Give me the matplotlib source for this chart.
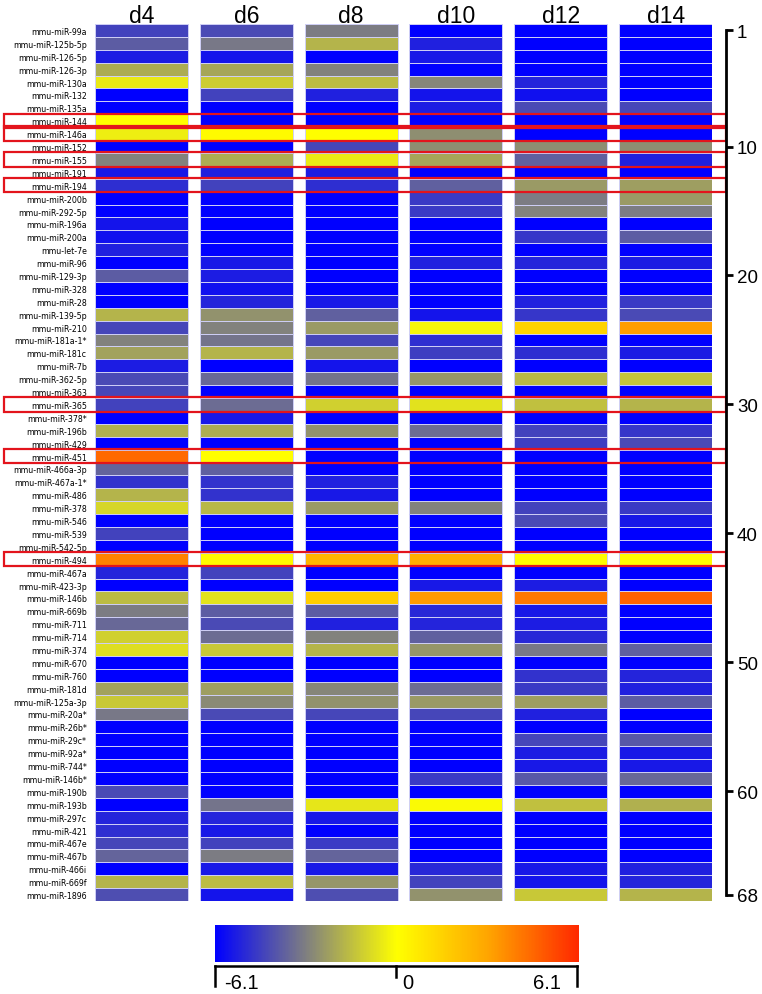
import matplotlib
matplotlib.use("Agg")
import matplotlib.pyplot as plt
import numpy as np
from matplotlib.colors import LinearSegmentedColormap, Normalize
from matplotlib.patches import Rectangle
from matplotlib import transforms
from matplotlib.cm import ScalarMappable

mirnas = ['mmu-miR-99a', 'mmu-miR-125b-5p', 'mmu-miR-126-5p', 'mmu-miR-126-3p', 'mmu-miR-130a',
          'mmu-miR-132', 'mmu-miR-135a', 'mmu-miR-144', 'mmu-miR-146a', 'mmu-miR-152',
          'mmu-miR-155', 'mmu-miR-191', 'mmu-miR-194', 'mmu-miR-200b', 'mmu-miR-292-5p',
          'mmu-miR-196a', 'mmu-miR-200a', 'mmu-let-7e', 'mmu-miR-96', 'mmu-miR-129-3p',
          'mmu-miR-328', 'mmu-miR-28', 'mmu-miR-139-5p', 'mmu-miR-210', 'mmu-miR-181a-1*',
          'mmu-miR-181c', 'mmu-miR-7b', 'mmu-miR-362-5p', 'mmu-miR-363', 'mmu-miR-365',
          'mmu-miR-378*', 'mmu-miR-196b', 'mmu-miR-429', 'mmu-miR-451', 'mmu-miR-466a-3p',
          'mmu-miR-467a-1*', 'mmu-miR-486', 'mmu-miR-378', 'mmu-miR-546', 'mmu-miR-539',
          'mmu-miR-542-5p', 'mmu-miR-494', 'mmu-miR-467a', 'mmu-miR-423-3p', 'mmu-miR-146b',
          'mmu-miR-669b', 'mmu-miR-711', 'mmu-miR-714', 'mmu-miR-374', 'mmu-miR-670',
          'mmu-miR-760', 'mmu-miR-181d', 'mmu-miR-125a-3p', 'mmu-miR-20a*', 'mmu-miR-26b*',
          'mmu-miR-29c*', 'mmu-miR-92a*', 'mmu-miR-744*', 'mmu-miR-146b*', 'mmu-miR-190b',
          'mmu-miR-193b', 'mmu-miR-297c', 'mmu-miR-421', 'mmu-miR-467e', 'mmu-miR-467b',
          'mmu-miR-466i', 'mmu-miR-669f', 'mmu-miR-1896']

days = ['d4', 'd6', 'd8', 'd10', 'd12', 'd14']

# log2 fold change per day, rows follow mirnas
d4 = [-4.5, -3.9, -5.4, -2.0, -0.5, -6.1, -6.1, 0.0, -0.4, -6.1,
      -3.0, -5.5, -5.0, -6.1, -6.1, -5.6, -5.7, -5.3, -6.1, -3.9,
      -6.1, -6.1, -1.8, -4.4, -3.0, -2.2, -5.4, -4.3, -4.4, -4.5,
      -6.1, -1.9, -6.1, 4.5, -3.7, -4.9, -1.8, -1.0, -6.1, -4.5,
      -6.1, 3.9, -5.2, -6.1, -1.6, -3.1, -3.6, -1.1, -0.8, -6.1,
      -6.1, -2.2, -1.3, -3.2, -6.1, -6.1, -6.1, -6.1, -6.1, -4.3,
      -6.1, -5.2, -5.0, -4.4, -3.7, -6.1, -1.8, -4.2]
d6 = [-4.3, -3.2, -5.6, -2.1, -1.2, -4.5, -6.1, -6.1, 0.1, -6.1,
      -2.0, -5.3, -4.5, -6.1, -6.1, -6.1, -6.1, -6.1, -5.5, -5.4,
      -5.7, -5.2, -2.6, -3.0, -3.3, -1.8, -6.1, -3.6, -6.1, -3.5,
      -5.5, -2.0, -6.1, 0.0, -3.8, -4.9, -4.9, -1.7, -6.1, -6.1,
      -6.1, 0.1, -4.5, -6.1, -0.7, -3.9, -4.3, -3.5, -1.3, -6.1,
      -6.1, -2.3, -2.8, -4.3, -6.1, -6.1, -6.1, -6.1, -6.1, -6.1,
      -3.3, -5.2, -5.5, -4.5, -3.1, -5.5, -1.6, -5.6]
d8 = [-3.1, -1.8, -6.1, -3.0, -1.6, -5.3, -6.1, -6.1, 0.0, -4.4,
      -0.5, -5.4, -5.0, -6.1, -6.1, -6.1, -6.1, -6.1, -6.1, -6.1,
      -6.1, -5.5, -3.8, -2.4, -4.4, -2.4, -5.6, -3.3, -6.1, -1.1,
      -6.1, -2.6, -6.1, -6.1, -6.1, -5.3, -5.5, -2.4, -6.1, -6.1,
      -6.1, 2.5, -6.1, -6.1, 1.7, -3.9, -5.3, -3.0, -1.8, -6.1,
      -6.1, -2.9, -2.6, -4.4, -6.1, -6.1, -6.1, -6.1, -6.1, -6.1,
      -0.6, -5.5, -6.1, -4.7, -3.7, -5.5, -2.5, -4.2]
d10 = [-6.1, -5.3, -5.5, -6.1, -2.9, -5.6, -5.4, -6.1, -2.7, -2.7,
       -2.1, -6.1, -3.8, -4.7, -4.7, -6.1, -6.1, -6.1, -5.3, -6.1,
       -6.1, -6.1, -5.6, -0.2, -5.0, -4.6, -6.1, -2.5, -6.1, -0.7,
       -6.1, -3.5, -6.1, -6.1, -6.1, -6.1, -6.1, -3.0, -6.1, -6.1,
       -6.1, 2.7, -6.1, -5.5, 3.3, -5.1, -5.2, -3.8, -2.5, -6.1,
       -6.1, -3.5, -2.4, -4.4, -6.1, -6.1, -6.1, -6.1, -4.7, -6.1,
       -0.1, -6.1, -6.1, -6.1, -6.1, -5.1, -4.5, -2.6]
d12 = [-6.1, -6.1, -6.1, -6.1, -5.2, -5.7, -4.3, -6.1, -6.1, -2.7,
       -3.8, -6.1, -2.4, -3.1, -3.0, -6.1, -4.8, -6.1, -5.2, -6.1,
       -6.1, -5.3, -4.8, 1.5, -6.1, -5.0, -6.1, -1.7, -6.1, -1.5,
       -6.1, -4.5, -4.6, -6.1, -6.1, -6.1, -6.1, -4.5, -4.3, -6.1,
       -6.1, 0.05, -6.1, -5.4, 4.1, -5.5, -5.4, -5.1, -3.2, -6.1,
       -4.9, -4.7, -2.3, -5.3, -6.1, -4.4, -5.4, -5.5, -4.0, -6.1,
       -1.5, -6.1, -6.1, -6.1, -6.1, -5.5, -5.6, -1.3]
d14 = [-6.1, -6.1, -6.1, -6.1, -6.1, -6.1, -4.4, -6.1, -6.1, -2.7,
       -5.3, -6.1, -2.3, -2.4, -3.1, -6.1, -3.9, -6.1, -5.4, -6.1,
       -6.1, -4.7, -4.3, 3.2, -6.1, -5.4, -6.1, -1.4, -6.1, -1.8,
       -6.1, -4.8, -4.3, -6.1, -6.1, -6.1, -6.1, -4.7, -5.5, -6.1,
       -6.1, 0.05, -6.1, -6.1, 4.7, -6.1, -6.1, -6.1, -3.8, -6.1,
       -5.2, -5.3, -3.9, -6.1, -6.1, -4.0, -5.5, -5.5, -3.6, -6.1,
       -1.9, -6.1, -6.1, -6.1, -6.1, -5.3, -5.2, -1.8]

highlighted = [8, 9, 11, 13, 30, 34, 42]
row_ticks = [1, 10, 20, 30, 40, 50, 60, 68]
vmin, vmax = -6.1, 6.1

W, H = 762, 995
fig = plt.figure(figsize=(W / 100, H / 100), dpi=100)

cmap = LinearSegmentedColormap.from_list(
    'bgyr', [(0, '#0000ff'), (0.25, '#808080'), (0.5, '#ffff00'),
             (0.75, '#ffa500'), (1.0, '#ff2800')])
norm = Normalize(vmin, vmax)

def px(x0, y0, x1, y1):
    return [x0 / W, 1 - y1 / H, (x1 - x0) / W, (y1 - y0) / H]

ax = fig.add_axes(px(95, 25, 712, 902))
rows = np.arange(1, len(mirnas) + 1)
cols = [d4, d6, d8, d10, d12, d14]
bar_w = 93 / 105
title_tr = transforms.blended_transform_factory(ax.transData, fig.transFigure)
for j, vals in enumerate(cols):
    ax.barh(rows, bar_w, left=j - bar_w / 2, height=1,
            color=cmap(norm(np.array(vals))), edgecolor='#cfcff6', linewidth=0.7)
    ax.text(j, 1 - 23 / H, days[j], transform=title_tr,
            ha='center', va='baseline', fontsize=16.5, family='Liberation Sans')

ax.set_xlim(-0.443, 5.443)
ax.set_ylim(68.5, 0.5)
ax.set_xticks([])
ax.set_yticks(rows)
ax.set_yticklabels(mirnas, fontsize=5.7)
ax.tick_params(axis='y', length=0, pad=6)
for s in ['top', 'bottom', 'left', 'right']:
    ax.spines[s].set_visible(False)

# right-hand row index axis
rax = ax.twinx()
rax.set_ylim(68.5, 0.5)
for s in ['top', 'bottom', 'left']:
    rax.spines[s].set_visible(False)
rax.spines['right'].set_position(('outward', 10))
rax.spines['right'].set_bounds(1, 68)
rax.spines['right'].set_linewidth(2)
rax.set_yticks(row_ticks)
rax.set_yticklabels([str(t) for t in row_ticks], family='Liberation Sans', fontsize=13.5)
rax.tick_params(axis='y', direction='out', length=5, width=2, pad=3)

# red boxes around highlighted rows
tr = transforms.blended_transform_factory(fig.transFigure, ax.transData)
for r in highlighted:
    ax.add_patch(Rectangle((4 / W, r - 0.56), 722 / W, 1.12, transform=tr, fill=False,
                           edgecolor='#e3141c', linewidth=1.6, clip_on=False, zorder=5))

# colour bar
cax = fig.add_axes(px(215, 926, 579, 963))
cb = fig.colorbar(ScalarMappable(norm=norm, cmap=cmap), cax=cax, orientation='horizontal')
cb.set_ticks([])
cb.outline.set_visible(False)

# bracket scale under colour bar
bax = fig.add_axes(px(215, 960, 577, 995))
bax.set_xlim(vmin, vmax)
bax.set_ylim(35, 0)
bax.axis('off')
bax.plot([vmin, vmax], [7, 7], color='black', lw=1.8, clip_on=False, solid_capstyle='projecting')
bax.plot([vmin, vmin], [7, 27], color='black', lw=1.8, clip_on=False)
bax.plot([vmax, vmax], [7, 27], color='black', lw=1.8, clip_on=False)
bax.plot([0, 0], [7, 18], color='black', lw=1.8, clip_on=False)
lab = dict(va='baseline', fontsize=14.5, family='Liberation Sans', clip_on=False)
bax.text(vmin + 0.32, 29, '-6.1', ha='left', **lab)
bax.text(0.22, 29, '0', ha='left', **lab)
bax.text(vmax - 0.55, 29, '6.1', ha='right', **lab)

fig.savefig('out.png', dpi=100)
